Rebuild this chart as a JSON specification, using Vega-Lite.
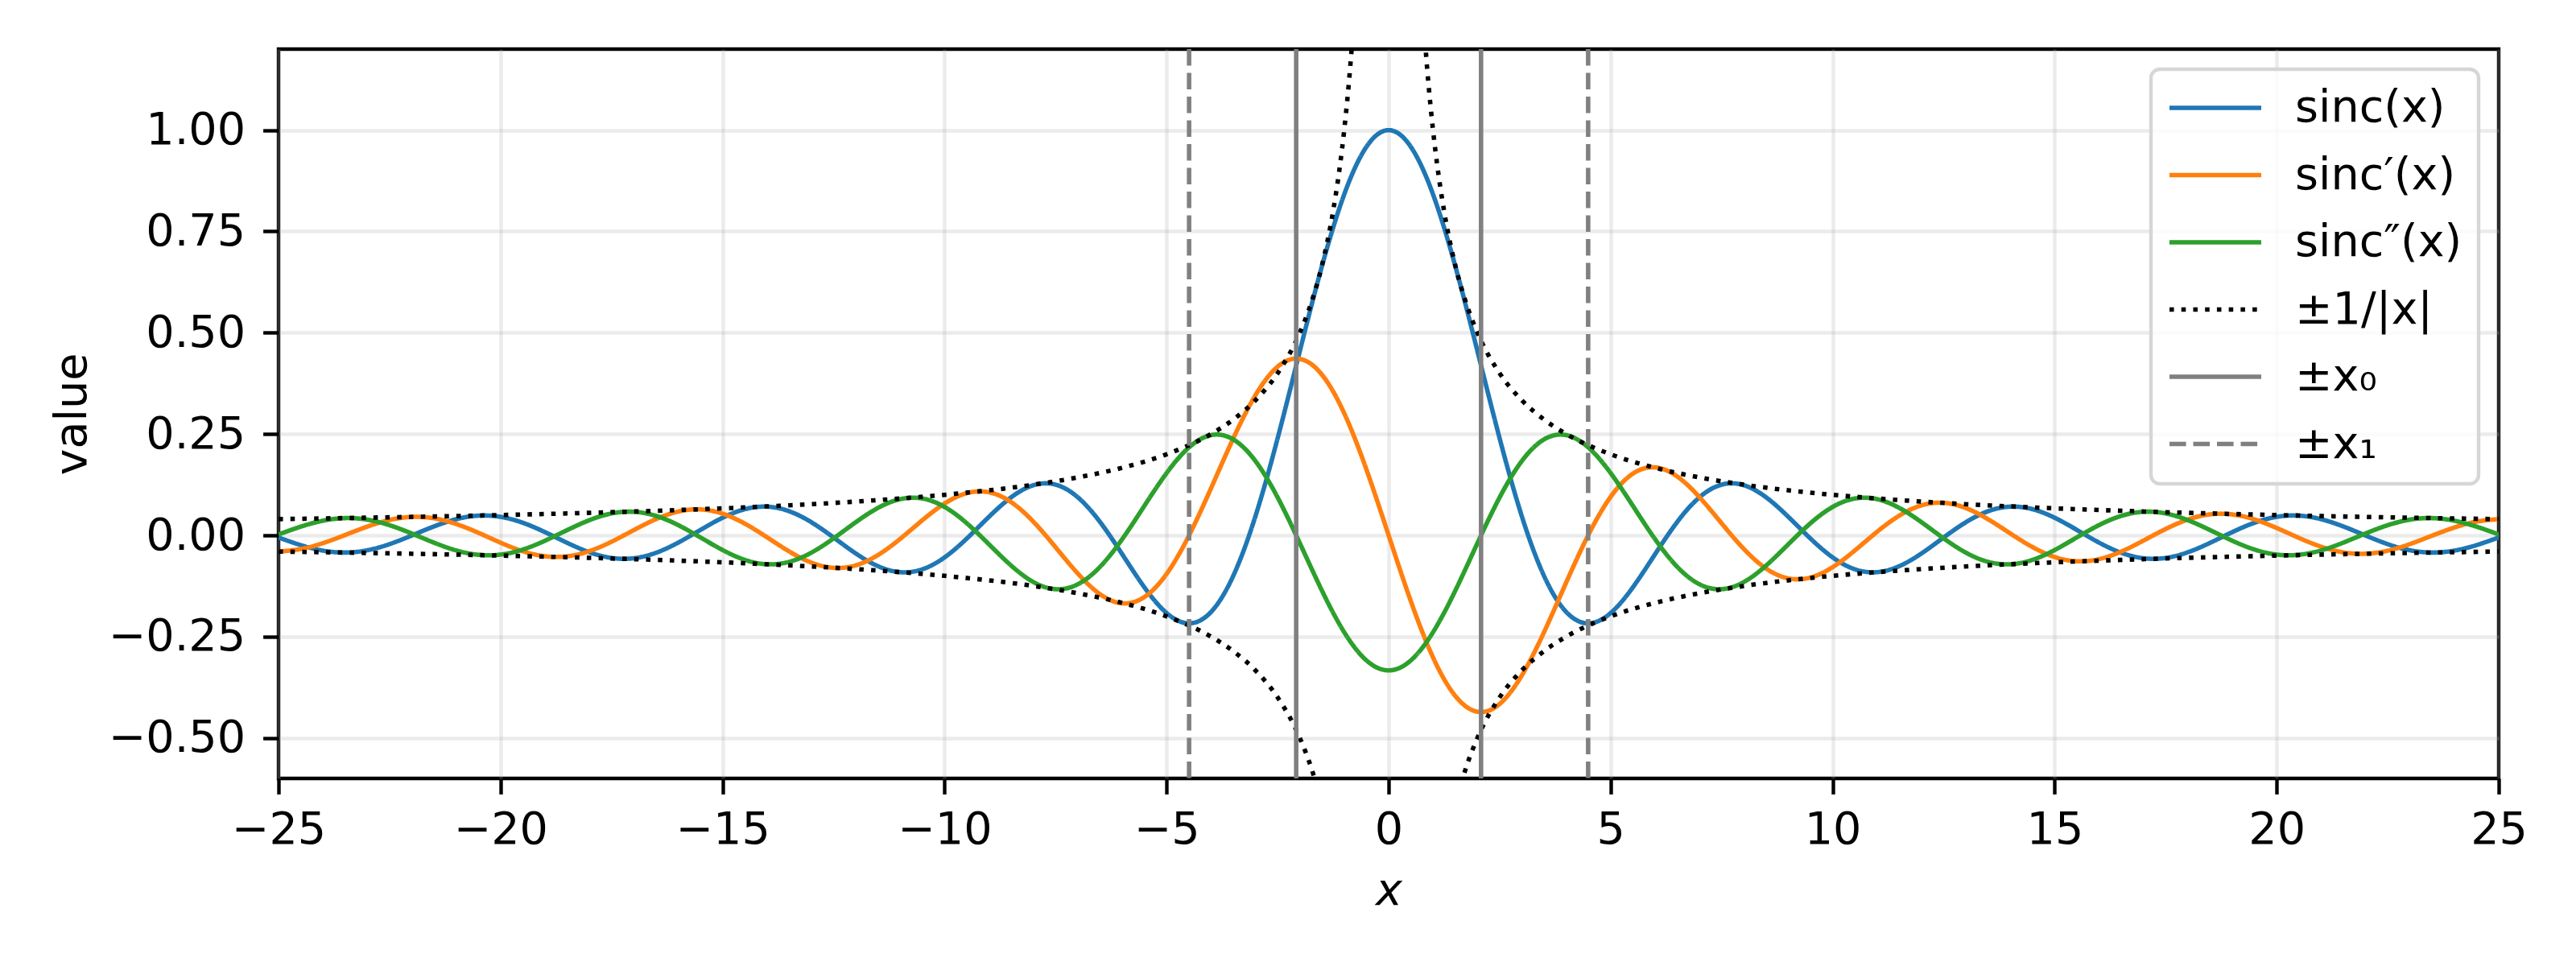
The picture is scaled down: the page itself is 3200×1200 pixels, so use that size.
{
"$schema": "https://vega.github.io/schema/vega-lite/v6.json",
"width": 2758,
"height": 906,
"autosize": {"type": "none"},
"padding": {"left": 346, "top": 61, "right": 96, "bottom": 233},
"background": "white",
"config": {
  "font": "DejaVu Sans",
  "view": {"stroke": "black", "strokeWidth": 4.4},
  "axis": {"domain": false, "grid": true, "gridColor": "#b0b0b0", "gridOpacity": 0.25, "gridWidth": 4.4, "tickColor": "black", "tickWidth": 4.4, "tickSize": 19.4, "labelFont": "DejaVu Sans", "labelFontSize": 55.6, "labelColor": "black", "labelFlush": false, "labelOverlap": false, "titleFont": "DejaVu Sans", "titleFontSize": 55.6, "titleFontWeight": "normal", "titleColor": "black"},
  "legend": {"orient": "top-right", "offset": 25, "symbolType": "stroke", "symbolSize": 12996, "symbolStrokeWidth": 5.56, "clipHeight": 56, "labelFont": "DejaVu Sans", "labelFontSize": 55.6, "labelColor": "black", "labelOffset": 39, "rowPadding": 26.5, "padding": 20, "fillColor": "rgba(255,255,255,0.8)", "strokeColor": "#d6d6d6", "strokeWidth": 4.4, "cornerRadius": 11, "labelLimit": 0}
},
"datasets": {
"curves": [
{"x":-25,"y":-0.0053,"s":"sinc(x)"},{"x":-24.5,"y":-0.0241,"s":"sinc(x)"},{"x":-24,"y":-0.0377,"s":"sinc(x)"},{"x":-23.5,"y":-0.0425,"s":"sinc(x)"},{"x":-23,"y":-0.0368,"s":"sinc(x)"},{"x":-22.5,"y":-0.0217,"s":"sinc(x)"},{"x":-22,"y":-0.0004,"s":"sinc(x)"},{"x":-21.5,"y":0.0219,"s":"sinc(x)"},{"x":-21,"y":0.0398,"s":"sinc(x)"},{"x":-20.5,"y":0.0486,"s":"sinc(x)"},{"x":-20,"y":0.0456,"s":"sinc(x)"},{"x":-19.5,"y":0.0311,"s":"sinc(x)"},{"x":-19,"y":0.0079,"s":"sinc(x)"},{"x":-18.5,"y":-0.0185,"s":"sinc(x)"},{"x":-18,"y":-0.0417,"s":"sinc(x)"},{"x":-17.5,"y":-0.0558,"s":"sinc(x)"},{"x":-17,"y":-0.0566,"s":"sinc(x)"},{"x":-16.5,"y":-0.0431,"s":"sinc(x)"},{"x":-16,"y":-0.018,"s":"sinc(x)"},{"x":-15.5,"y":0.0133,"s":"sinc(x)"},{"x":-15,"y":0.0434,"s":"sinc(x)"},{"x":-14.5,"y":0.0645,"s":"sinc(x)"},{"x":-14,"y":0.0708,"s":"sinc(x)"},{"x":-13.5,"y":0.0595,"s":"sinc(x)"},{"x":-13,"y":0.0323,"s":"sinc(x)"},{"x":-12.5,"y":-0.0053,"s":"sinc(x)"},{"x":-12,"y":-0.0447,"s":"sinc(x)"},{"x":-11.5,"y":-0.0761,"s":"sinc(x)"},{"x":-11,"y":-0.0909,"s":"sinc(x)"},{"x":-10.5,"y":-0.0838,"s":"sinc(x)"},{"x":-10,"y":-0.0544,"s":"sinc(x)"},{"x":-9.5,"y":-0.0079,"s":"sinc(x)"},{"x":-9,"y":0.0458,"s":"sinc(x)"},{"x":-8.5,"y":0.0939,"s":"sinc(x)"},{"x":-8,"y":0.1237,"s":"sinc(x)"},{"x":-7.5,"y":0.1251,"s":"sinc(x)"},{"x":-7,"y":0.0939,"s":"sinc(x)"},{"x":-6.5,"y":0.0331,"s":"sinc(x)"},{"x":-6,"y":-0.0466,"s":"sinc(x)"},{"x":-5.5,"y":-0.1283,"s":"sinc(x)"},{"x":-5,"y":-0.1918,"s":"sinc(x)"},{"x":-4.5,"y":-0.2172,"s":"sinc(x)"},{"x":-4,"y":-0.1892,"s":"sinc(x)"},{"x":-3.5,"y":-0.1002,"s":"sinc(x)"},{"x":-3,"y":0.047,"s":"sinc(x)"},{"x":-2.5,"y":0.2394,"s":"sinc(x)"},{"x":-2,"y":0.4546,"s":"sinc(x)"},{"x":-1.5,"y":0.665,"s":"sinc(x)"},{"x":-1,"y":0.8415,"s":"sinc(x)"},{"x":-0.5,"y":0.9589,"s":"sinc(x)"},{"x":0,"y":1,"s":"sinc(x)"},{"x":0.5,"y":0.9589,"s":"sinc(x)"},{"x":1,"y":0.8415,"s":"sinc(x)"},{"x":1.5,"y":0.665,"s":"sinc(x)"},{"x":2,"y":0.4546,"s":"sinc(x)"},{"x":2.5,"y":0.2394,"s":"sinc(x)"},{"x":3,"y":0.047,"s":"sinc(x)"},{"x":3.5,"y":-0.1002,"s":"sinc(x)"},{"x":4,"y":-0.1892,"s":"sinc(x)"},{"x":4.5,"y":-0.2172,"s":"sinc(x)"},{"x":5,"y":-0.1918,"s":"sinc(x)"},{"x":5.5,"y":-0.1283,"s":"sinc(x)"},{"x":6,"y":-0.0466,"s":"sinc(x)"},{"x":6.5,"y":0.0331,"s":"sinc(x)"},{"x":7,"y":0.0939,"s":"sinc(x)"},{"x":7.5,"y":0.1251,"s":"sinc(x)"},{"x":8,"y":0.1237,"s":"sinc(x)"},{"x":8.5,"y":0.0939,"s":"sinc(x)"},{"x":9,"y":0.0458,"s":"sinc(x)"},{"x":9.5,"y":-0.0079,"s":"sinc(x)"},{"x":10,"y":-0.0544,"s":"sinc(x)"},{"x":10.5,"y":-0.0838,"s":"sinc(x)"},{"x":11,"y":-0.0909,"s":"sinc(x)"},{"x":11.5,"y":-0.0761,"s":"sinc(x)"},{"x":12,"y":-0.0447,"s":"sinc(x)"},{"x":12.5,"y":-0.0053,"s":"sinc(x)"},{"x":13,"y":0.0323,"s":"sinc(x)"},{"x":13.5,"y":0.0595,"s":"sinc(x)"},{"x":14,"y":0.0708,"s":"sinc(x)"},{"x":14.5,"y":0.0645,"s":"sinc(x)"},{"x":15,"y":0.0434,"s":"sinc(x)"},{"x":15.5,"y":0.0133,"s":"sinc(x)"},{"x":16,"y":-0.018,"s":"sinc(x)"},{"x":16.5,"y":-0.0431,"s":"sinc(x)"},{"x":17,"y":-0.0566,"s":"sinc(x)"},{"x":17.5,"y":-0.0558,"s":"sinc(x)"},{"x":18,"y":-0.0417,"s":"sinc(x)"},{"x":18.5,"y":-0.0185,"s":"sinc(x)"},{"x":19,"y":0.0079,"s":"sinc(x)"},{"x":19.5,"y":0.0311,"s":"sinc(x)"},{"x":20,"y":0.0456,"s":"sinc(x)"},{"x":20.5,"y":0.0486,"s":"sinc(x)"},{"x":21,"y":0.0398,"s":"sinc(x)"},{"x":21.5,"y":0.0219,"s":"sinc(x)"},{"x":22,"y":-0.0004,"s":"sinc(x)"},{"x":22.5,"y":-0.0217,"s":"sinc(x)"},{"x":23,"y":-0.0368,"s":"sinc(x)"},{"x":23.5,"y":-0.0425,"s":"sinc(x)"},{"x":24,"y":-0.0377,"s":"sinc(x)"},{"x":24.5,"y":-0.0241,"s":"sinc(x)"},{"x":25,"y":-0.0053,"s":"sinc(x)"},
{"x":-25,"y":-0.0399,"s":"sinc′(x)"},{"x":-24.5,"y":-0.0339,"s":"sinc′(x)"},{"x":-24,"y":-0.0192,"s":"sinc′(x)"},{"x":-23.5,"y":0.0008,"s":"sinc′(x)"},{"x":-23,"y":0.0216,"s":"sinc′(x)"},{"x":-22.5,"y":0.0379,"s":"sinc′(x)"},{"x":-22,"y":0.0454,"s":"sinc′(x)"},{"x":-21.5,"y":0.042,"s":"sinc′(x)"},{"x":-21,"y":0.028,"s":"sinc′(x)"},{"x":-20.5,"y":0.0063,"s":"sinc′(x)"},{"x":-20,"y":-0.0181,"s":"sinc′(x)"},{"x":-19.5,"y":-0.0392,"s":"sinc′(x)"},{"x":-19,"y":-0.0516,"s":"sinc′(x)"},{"x":-18.5,"y":-0.0518,"s":"sinc′(x)"},{"x":-18,"y":-0.039,"s":"sinc′(x)"},{"x":-17.5,"y":-0.0157,"s":"sinc′(x)"},{"x":-17,"y":0.0129,"s":"sinc′(x)"},{"x":-16.5,"y":0.04,"s":"sinc′(x)"},{"x":-16,"y":0.0587,"s":"sinc′(x)"},{"x":-15.5,"y":0.064,"s":"sinc′(x)"},{"x":-15,"y":0.0535,"s":"sinc′(x)"},{"x":-14.5,"y":0.0289,"s":"sinc′(x)"},{"x":-14,"y":-0.0047,"s":"sinc′(x)"},{"x":-13.5,"y":-0.0397,"s":"sinc′(x)"},{"x":-13,"y":-0.0673,"s":"sinc′(x)"},{"x":-12.5,"y":-0.0802,"s":"sinc′(x)"},{"x":-12,"y":-0.074,"s":"sinc′(x)"},{"x":-11.5,"y":-0.0486,"s":"sinc′(x)"},{"x":-11,"y":-0.0087,"s":"sinc′(x)"},{"x":-10.5,"y":0.0373,"s":"sinc′(x)"},{"x":-10,"y":0.0785,"s":"sinc′(x)"},{"x":-9.5,"y":0.1041,"s":"sinc′(x)"},{"x":-9,"y":0.1063,"s":"sinc′(x)"},{"x":-8.5,"y":0.0819,"s":"sinc′(x)"},{"x":-8,"y":0.0336,"s":"sinc′(x)"},{"x":-7.5,"y":-0.0295,"s":"sinc′(x)"},{"x":-7,"y":-0.0943,"s":"sinc′(x)"},{"x":-6.5,"y":-0.1452,"s":"sinc′(x)"},{"x":-6,"y":-0.1678,"s":"sinc′(x)"},{"x":-5.5,"y":-0.1522,"s":"sinc′(x)"},{"x":-5,"y":-0.0951,"s":"sinc′(x)"},{"x":-4.5,"y":-0.0014,"s":"sinc′(x)"},{"x":-4,"y":0.1161,"s":"sinc′(x)"},{"x":-3.5,"y":0.2389,"s":"sinc′(x)"},{"x":-3,"y":0.3457,"s":"sinc′(x)"},{"x":-2.5,"y":0.4162,"s":"sinc′(x)"},{"x":-2,"y":0.4354,"s":"sinc′(x)"},{"x":-1.5,"y":0.3962,"s":"sinc′(x)"},{"x":-1,"y":0.3012,"s":"sinc′(x)"},{"x":-0.5,"y":0.1625,"s":"sinc′(x)"},{"x":0,"y":0,"s":"sinc′(x)"},{"x":0.5,"y":-0.1625,"s":"sinc′(x)"},{"x":1,"y":-0.3012,"s":"sinc′(x)"},{"x":1.5,"y":-0.3962,"s":"sinc′(x)"},{"x":2,"y":-0.4354,"s":"sinc′(x)"},{"x":2.5,"y":-0.4162,"s":"sinc′(x)"},{"x":3,"y":-0.3457,"s":"sinc′(x)"},{"x":3.5,"y":-0.2389,"s":"sinc′(x)"},{"x":4,"y":-0.1161,"s":"sinc′(x)"},{"x":4.5,"y":0.0014,"s":"sinc′(x)"},{"x":5,"y":0.0951,"s":"sinc′(x)"},{"x":5.5,"y":0.1522,"s":"sinc′(x)"},{"x":6,"y":0.1678,"s":"sinc′(x)"},{"x":6.5,"y":0.1452,"s":"sinc′(x)"},{"x":7,"y":0.0943,"s":"sinc′(x)"},{"x":7.5,"y":0.0295,"s":"sinc′(x)"},{"x":8,"y":-0.0336,"s":"sinc′(x)"},{"x":8.5,"y":-0.0819,"s":"sinc′(x)"},{"x":9,"y":-0.1063,"s":"sinc′(x)"},{"x":9.5,"y":-0.1041,"s":"sinc′(x)"},{"x":10,"y":-0.0785,"s":"sinc′(x)"},{"x":10.5,"y":-0.0373,"s":"sinc′(x)"},{"x":11,"y":0.0087,"s":"sinc′(x)"},{"x":11.5,"y":0.0486,"s":"sinc′(x)"},{"x":12,"y":0.074,"s":"sinc′(x)"},{"x":12.5,"y":0.0802,"s":"sinc′(x)"},{"x":13,"y":0.0673,"s":"sinc′(x)"},{"x":13.5,"y":0.0397,"s":"sinc′(x)"},{"x":14,"y":0.0047,"s":"sinc′(x)"},{"x":14.5,"y":-0.0289,"s":"sinc′(x)"},{"x":15,"y":-0.0535,"s":"sinc′(x)"},{"x":15.5,"y":-0.064,"s":"sinc′(x)"},{"x":16,"y":-0.0587,"s":"sinc′(x)"},{"x":16.5,"y":-0.04,"s":"sinc′(x)"},{"x":17,"y":-0.0129,"s":"sinc′(x)"},{"x":17.5,"y":0.0157,"s":"sinc′(x)"},{"x":18,"y":0.039,"s":"sinc′(x)"},{"x":18.5,"y":0.0518,"s":"sinc′(x)"},{"x":19,"y":0.0516,"s":"sinc′(x)"},{"x":19.5,"y":0.0392,"s":"sinc′(x)"},{"x":20,"y":0.0181,"s":"sinc′(x)"},{"x":20.5,"y":-0.0063,"s":"sinc′(x)"},{"x":21,"y":-0.028,"s":"sinc′(x)"},{"x":21.5,"y":-0.042,"s":"sinc′(x)"},{"x":22,"y":-0.0454,"s":"sinc′(x)"},{"x":22.5,"y":-0.0379,"s":"sinc′(x)"},{"x":23,"y":-0.0216,"s":"sinc′(x)"},{"x":23.5,"y":-0.0008,"s":"sinc′(x)"},{"x":24,"y":0.0192,"s":"sinc′(x)"},{"x":24.5,"y":0.0339,"s":"sinc′(x)"},{"x":25,"y":0.0399,"s":"sinc′(x)"},
{"x":-25,"y":0.0021,"s":"sinc″(x)"},{"x":-24.5,"y":0.0214,"s":"sinc″(x)"},{"x":-24,"y":0.0361,"s":"sinc″(x)"},{"x":-23.5,"y":0.0425,"s":"sinc″(x)"},{"x":-23,"y":0.0387,"s":"sinc″(x)"},{"x":-22.5,"y":0.025,"s":"sinc″(x)"},{"x":-22,"y":0.0045,"s":"sinc″(x)"},{"x":-21.5,"y":-0.018,"s":"sinc″(x)"},{"x":-21,"y":-0.0372,"s":"sinc″(x)"},{"x":-20.5,"y":-0.048,"s":"sinc″(x)"},{"x":-20,"y":-0.0475,"s":"sinc″(x)"},{"x":-19.5,"y":-0.0351,"s":"sinc″(x)"},{"x":-19,"y":-0.0133,"s":"sinc″(x)"},{"x":-18.5,"y":0.0129,"s":"sinc″(x)"},{"x":-18,"y":0.0374,"s":"sinc″(x)"},{"x":-17.5,"y":0.054,"s":"sinc″(x)"},{"x":-17,"y":0.0581,"s":"sinc″(x)"},{"x":-16.5,"y":0.048,"s":"sinc″(x)"},{"x":-16,"y":0.0253,"s":"sinc″(x)"},{"x":-15.5,"y":-0.0051,"s":"sinc″(x)"},{"x":-15,"y":-0.0362,"s":"sinc″(x)"},{"x":-14.5,"y":-0.0605,"s":"sinc″(x)"},{"x":-14,"y":-0.0714,"s":"sinc″(x)"},{"x":-13.5,"y":-0.0654,"s":"sinc″(x)"},{"x":-13,"y":-0.0427,"s":"sinc″(x)"},{"x":-12.5,"y":-0.0075,"s":"sinc″(x)"},{"x":-12,"y":0.0324,"s":"sinc″(x)"},{"x":-11.5,"y":0.0677,"s":"sinc″(x)"},{"x":-11,"y":0.0893,"s":"sinc″(x)"},{"x":-10.5,"y":0.0909,"s":"sinc″(x)"},{"x":-10,"y":0.0701,"s":"sinc″(x)"},{"x":-9.5,"y":0.0298,"s":"sinc″(x)"},{"x":-9,"y":-0.0222,"s":"sinc″(x)"},{"x":-8.5,"y":-0.0747,"s":"sinc″(x)"},{"x":-8,"y":-0.1153,"s":"sinc″(x)"},{"x":-7.5,"y":-0.1329,"s":"sinc″(x)"},{"x":-7,"y":-0.1208,"s":"sinc″(x)"},{"x":-6.5,"y":-0.0778,"s":"sinc″(x)"},{"x":-6,"y":-0.0094,"s":"sinc″(x)"},{"x":-5.5,"y":0.0729,"s":"sinc″(x)"},{"x":-5,"y":0.1537,"s":"sinc″(x)"},{"x":-4.5,"y":0.2166,"s":"sinc″(x)"},{"x":-4,"y":0.2473,"s":"sinc″(x)"},{"x":-3.5,"y":0.2368,"s":"sinc″(x)"},{"x":-3,"y":0.1834,"s":"sinc″(x)"},{"x":-2.5,"y":0.0936,"s":"sinc″(x)"},{"x":-2,"y":-0.0193,"s":"sinc″(x)"},{"x":-1.5,"y":-0.1368,"s":"sinc″(x)"},{"x":-1,"y":-0.2391,"s":"sinc″(x)"},{"x":-0.5,"y":-0.3087,"s":"sinc″(x)"},{"x":0,"y":-0.3333,"s":"sinc″(x)"},{"x":0.5,"y":-0.3087,"s":"sinc″(x)"},{"x":1,"y":-0.2391,"s":"sinc″(x)"},{"x":1.5,"y":-0.1368,"s":"sinc″(x)"},{"x":2,"y":-0.0193,"s":"sinc″(x)"},{"x":2.5,"y":0.0936,"s":"sinc″(x)"},{"x":3,"y":0.1834,"s":"sinc″(x)"},{"x":3.5,"y":0.2368,"s":"sinc″(x)"},{"x":4,"y":0.2473,"s":"sinc″(x)"},{"x":4.5,"y":0.2166,"s":"sinc″(x)"},{"x":5,"y":0.1537,"s":"sinc″(x)"},{"x":5.5,"y":0.0729,"s":"sinc″(x)"},{"x":6,"y":-0.0094,"s":"sinc″(x)"},{"x":6.5,"y":-0.0778,"s":"sinc″(x)"},{"x":7,"y":-0.1208,"s":"sinc″(x)"},{"x":7.5,"y":-0.1329,"s":"sinc″(x)"},{"x":8,"y":-0.1153,"s":"sinc″(x)"},{"x":8.5,"y":-0.0747,"s":"sinc″(x)"},{"x":9,"y":-0.0222,"s":"sinc″(x)"},{"x":9.5,"y":0.0298,"s":"sinc″(x)"},{"x":10,"y":0.0701,"s":"sinc″(x)"},{"x":10.5,"y":0.0909,"s":"sinc″(x)"},{"x":11,"y":0.0893,"s":"sinc″(x)"},{"x":11.5,"y":0.0677,"s":"sinc″(x)"},{"x":12,"y":0.0324,"s":"sinc″(x)"},{"x":12.5,"y":-0.0075,"s":"sinc″(x)"},{"x":13,"y":-0.0427,"s":"sinc″(x)"},{"x":13.5,"y":-0.0654,"s":"sinc″(x)"},{"x":14,"y":-0.0714,"s":"sinc″(x)"},{"x":14.5,"y":-0.0605,"s":"sinc″(x)"},{"x":15,"y":-0.0362,"s":"sinc″(x)"},{"x":15.5,"y":-0.0051,"s":"sinc″(x)"},{"x":16,"y":0.0253,"s":"sinc″(x)"},{"x":16.5,"y":0.048,"s":"sinc″(x)"},{"x":17,"y":0.0581,"s":"sinc″(x)"},{"x":17.5,"y":0.054,"s":"sinc″(x)"},{"x":18,"y":0.0374,"s":"sinc″(x)"},{"x":18.5,"y":0.0129,"s":"sinc″(x)"},{"x":19,"y":-0.0133,"s":"sinc″(x)"},{"x":19.5,"y":-0.0351,"s":"sinc″(x)"},{"x":20,"y":-0.0475,"s":"sinc″(x)"},{"x":20.5,"y":-0.048,"s":"sinc″(x)"},{"x":21,"y":-0.0372,"s":"sinc″(x)"},{"x":21.5,"y":-0.018,"s":"sinc″(x)"},{"x":22,"y":0.0045,"s":"sinc″(x)"},{"x":22.5,"y":0.025,"s":"sinc″(x)"},{"x":23,"y":0.0387,"s":"sinc″(x)"},{"x":23.5,"y":0.0425,"s":"sinc″(x)"},{"x":24,"y":0.0361,"s":"sinc″(x)"},{"x":24.5,"y":0.0214,"s":"sinc″(x)"},{"x":25,"y":0.0021,"s":"sinc″(x)"}
],
"hyper": [
{"x":0.8,"y":1.25,"b":"a","s":"±1/|x|"},{"x":0.85,"y":1.1765,"b":"a","s":"±1/|x|"},{"x":0.9,"y":1.1111,"b":"a","s":"±1/|x|"},{"x":1,"y":1,"b":"a","s":"±1/|x|"},{"x":1.1,"y":0.9091,"b":"a","s":"±1/|x|"},{"x":1.25,"y":0.8,"b":"a","s":"±1/|x|"},{"x":1.5,"y":0.6667,"b":"a","s":"±1/|x|"},{"x":1.75,"y":0.5714,"b":"a","s":"±1/|x|"},{"x":2,"y":0.5,"b":"a","s":"±1/|x|"},{"x":2.5,"y":0.4,"b":"a","s":"±1/|x|"},{"x":3,"y":0.3333,"b":"a","s":"±1/|x|"},{"x":3.5,"y":0.2857,"b":"a","s":"±1/|x|"},{"x":4,"y":0.25,"b":"a","s":"±1/|x|"},{"x":5,"y":0.2,"b":"a","s":"±1/|x|"},{"x":6,"y":0.1667,"b":"a","s":"±1/|x|"},{"x":7,"y":0.1429,"b":"a","s":"±1/|x|"},{"x":8,"y":0.125,"b":"a","s":"±1/|x|"},{"x":10,"y":0.1,"b":"a","s":"±1/|x|"},{"x":12,"y":0.0833,"b":"a","s":"±1/|x|"},{"x":14,"y":0.0714,"b":"a","s":"±1/|x|"},{"x":17,"y":0.0588,"b":"a","s":"±1/|x|"},{"x":20,"y":0.05,"b":"a","s":"±1/|x|"},{"x":25,"y":0.04,"b":"a","s":"±1/|x|"},
{"x":-0.8,"y":1.25,"b":"b","s":"±1/|x|"},{"x":-0.85,"y":1.1765,"b":"b","s":"±1/|x|"},{"x":-0.9,"y":1.1111,"b":"b","s":"±1/|x|"},{"x":-1,"y":1,"b":"b","s":"±1/|x|"},{"x":-1.1,"y":0.9091,"b":"b","s":"±1/|x|"},{"x":-1.25,"y":0.8,"b":"b","s":"±1/|x|"},{"x":-1.5,"y":0.6667,"b":"b","s":"±1/|x|"},{"x":-1.75,"y":0.5714,"b":"b","s":"±1/|x|"},{"x":-2,"y":0.5,"b":"b","s":"±1/|x|"},{"x":-2.5,"y":0.4,"b":"b","s":"±1/|x|"},{"x":-3,"y":0.3333,"b":"b","s":"±1/|x|"},{"x":-3.5,"y":0.2857,"b":"b","s":"±1/|x|"},{"x":-4,"y":0.25,"b":"b","s":"±1/|x|"},{"x":-5,"y":0.2,"b":"b","s":"±1/|x|"},{"x":-6,"y":0.1667,"b":"b","s":"±1/|x|"},{"x":-7,"y":0.1429,"b":"b","s":"±1/|x|"},{"x":-8,"y":0.125,"b":"b","s":"±1/|x|"},{"x":-10,"y":0.1,"b":"b","s":"±1/|x|"},{"x":-12,"y":0.0833,"b":"b","s":"±1/|x|"},{"x":-14,"y":0.0714,"b":"b","s":"±1/|x|"},{"x":-17,"y":0.0588,"b":"b","s":"±1/|x|"},{"x":-20,"y":0.05,"b":"b","s":"±1/|x|"},{"x":-25,"y":0.04,"b":"b","s":"±1/|x|"},
{"x":0.8,"y":-1.25,"b":"c","s":"±1/|x|"},{"x":0.85,"y":-1.1765,"b":"c","s":"±1/|x|"},{"x":0.9,"y":-1.1111,"b":"c","s":"±1/|x|"},{"x":1,"y":-1,"b":"c","s":"±1/|x|"},{"x":1.1,"y":-0.9091,"b":"c","s":"±1/|x|"},{"x":1.25,"y":-0.8,"b":"c","s":"±1/|x|"},{"x":1.5,"y":-0.6667,"b":"c","s":"±1/|x|"},{"x":1.75,"y":-0.5714,"b":"c","s":"±1/|x|"},{"x":2,"y":-0.5,"b":"c","s":"±1/|x|"},{"x":2.5,"y":-0.4,"b":"c","s":"±1/|x|"},{"x":3,"y":-0.3333,"b":"c","s":"±1/|x|"},{"x":3.5,"y":-0.2857,"b":"c","s":"±1/|x|"},{"x":4,"y":-0.25,"b":"c","s":"±1/|x|"},{"x":5,"y":-0.2,"b":"c","s":"±1/|x|"},{"x":6,"y":-0.1667,"b":"c","s":"±1/|x|"},{"x":7,"y":-0.1429,"b":"c","s":"±1/|x|"},{"x":8,"y":-0.125,"b":"c","s":"±1/|x|"},{"x":10,"y":-0.1,"b":"c","s":"±1/|x|"},{"x":12,"y":-0.0833,"b":"c","s":"±1/|x|"},{"x":14,"y":-0.0714,"b":"c","s":"±1/|x|"},{"x":17,"y":-0.0588,"b":"c","s":"±1/|x|"},{"x":20,"y":-0.05,"b":"c","s":"±1/|x|"},{"x":25,"y":-0.04,"b":"c","s":"±1/|x|"},
{"x":-0.8,"y":-1.25,"b":"d","s":"±1/|x|"},{"x":-0.85,"y":-1.1765,"b":"d","s":"±1/|x|"},{"x":-0.9,"y":-1.1111,"b":"d","s":"±1/|x|"},{"x":-1,"y":-1,"b":"d","s":"±1/|x|"},{"x":-1.1,"y":-0.9091,"b":"d","s":"±1/|x|"},{"x":-1.25,"y":-0.8,"b":"d","s":"±1/|x|"},{"x":-1.5,"y":-0.6667,"b":"d","s":"±1/|x|"},{"x":-1.75,"y":-0.5714,"b":"d","s":"±1/|x|"},{"x":-2,"y":-0.5,"b":"d","s":"±1/|x|"},{"x":-2.5,"y":-0.4,"b":"d","s":"±1/|x|"},{"x":-3,"y":-0.3333,"b":"d","s":"±1/|x|"},{"x":-3.5,"y":-0.2857,"b":"d","s":"±1/|x|"},{"x":-4,"y":-0.25,"b":"d","s":"±1/|x|"},{"x":-5,"y":-0.2,"b":"d","s":"±1/|x|"},{"x":-6,"y":-0.1667,"b":"d","s":"±1/|x|"},{"x":-7,"y":-0.1429,"b":"d","s":"±1/|x|"},{"x":-8,"y":-0.125,"b":"d","s":"±1/|x|"},{"x":-10,"y":-0.1,"b":"d","s":"±1/|x|"},{"x":-12,"y":-0.0833,"b":"d","s":"±1/|x|"},{"x":-14,"y":-0.0714,"b":"d","s":"±1/|x|"},{"x":-17,"y":-0.0588,"b":"d","s":"±1/|x|"},{"x":-20,"y":-0.05,"b":"d","s":"±1/|x|"},{"x":-25,"y":-0.04,"b":"d","s":"±1/|x|"}
],
"vlines": [
{"x":-2.0816,"s":"±x₀"},{"x":2.0816,"s":"±x₀"},{"x":-4.4934,"s":"±x₁"},{"x":4.4934,"s":"±x₁"}
]
},
"encoding": {
  "x": {"field": "x", "type": "quantitative", "scale": {"domain": [-25, 25], "nice": false, "zero": false},
        "axis": {"title": "x", "titleFontStyle": "italic", "values": [-25,-20,-15,-10,-5,0,5,10,15,20,25], "format": "d", "labelPadding": 17, "titlePadding": 20}},
  "color": {"field": "s", "type": "nominal",
        "scale": {"domain": ["sinc(x)","sinc′(x)","sinc″(x)","±1/|x|","±x₀","±x₁"], "range": ["#1f77b4","#ff7f0e","#2ca02c","#000000","#808080","#808080"]},
        "legend": {"title": null}},
  "strokeDash": {"field": "s", "type": "nominal",
        "scale": {"domain": ["sinc(x)","sinc′(x)","sinc″(x)","±1/|x|","±x₀","±x₁"], "range": [[1,0],[1,0],[1,0],[5.56,9.17],[1,0],[20.6,8.9]]},
        "legend": {"title": null}}
},
"layer": [
  {"data": {"name": "curves"},
   "mark": {"type": "line", "interpolate": "natural", "strokeWidth": 5.56, "clip": true},
   "encoding": {"y": {"field": "y", "type": "quantitative", "scale": {"domain": [-0.6, 1.2], "nice": false, "zero": false},
        "axis": {"title": "value", "values": [-0.5,-0.25,0,0.25,0.5,0.75,1], "format": ".2f", "labelPadding": 22, "titlePadding": 28}}}},
  {"data": {"name": "hyper"},
   "mark": {"type": "line", "interpolate": "monotone", "strokeWidth": 5.56, "clip": true},
   "encoding": {"y": {"field": "y", "type": "quantitative", "scale": {"domain": [-0.6, 1.2], "nice": false, "zero": false},
        "axis": {"title": "value", "values": [-0.5,-0.25,0,0.25,0.5,0.75,1], "format": ".2f", "labelPadding": 22, "titlePadding": 28}},
     "detail": {"field": "b", "type": "nominal"}}},
  {"data": {"name": "vlines"},
   "mark": {"type": "rule", "strokeWidth": 5.56},
   "encoding": {}}
]
}
